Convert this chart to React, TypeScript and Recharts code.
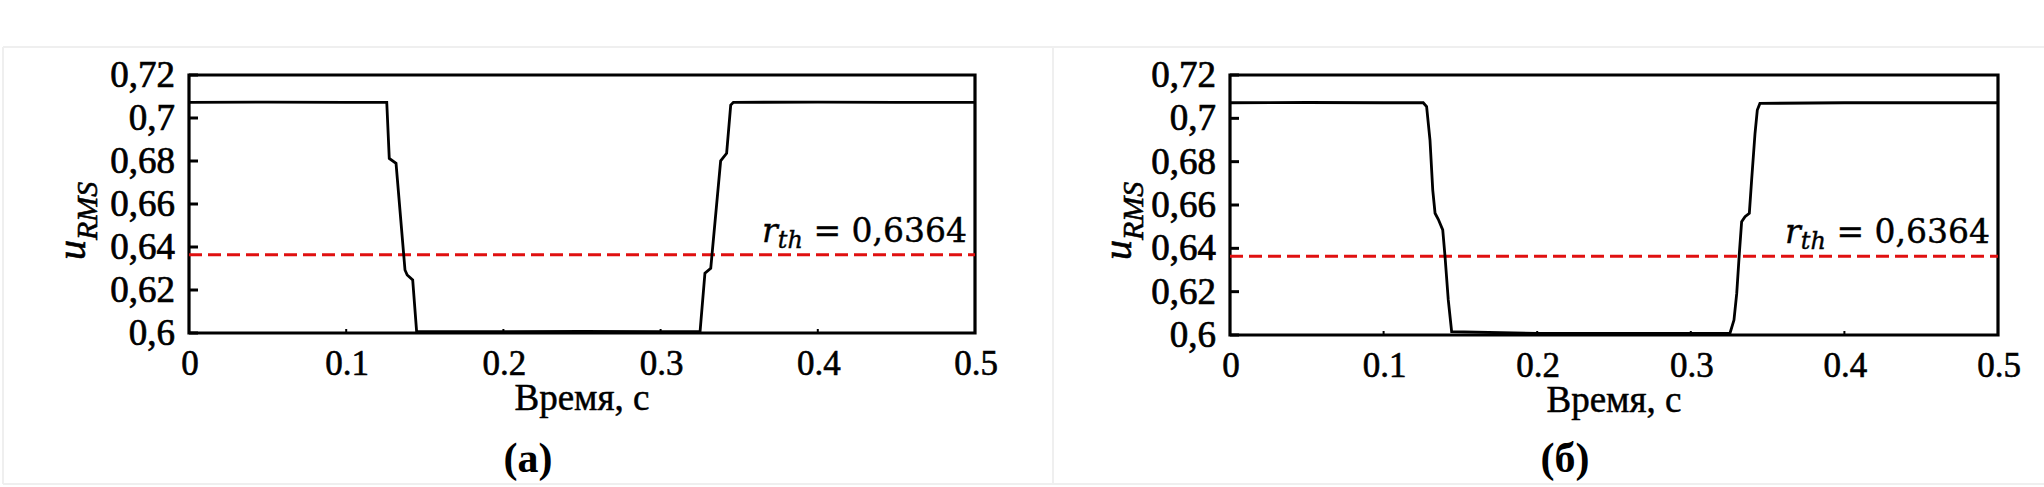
import React from 'react';
import { LineChart, Line, XAxis, YAxis, ReferenceLine, ReferenceArea } from 'recharts';

const timeTicks = [0, 0.1, 0.2, 0.3, 0.4, 0.5];
const timeTickLabels = ['0', '0.1', '0.2', '0.3', '0.4', '0.5'];
const uTicks = [0.6, 0.62, 0.64, 0.66, 0.68, 0.7, 0.72];
const uTickLabels = ['0,6', '0,62', '0,64', '0,66', '0,68', '0,7', '0,72'];
const threshold = 0.6364;
const thresholdText = '0,6364';
const xTitle = 'Время, с';
const panelNames = ['(а)', '(б)'];

// panel (a): stepped transitions
const timeA = [0, 0.05, 0.1, 0.1258, 0.1274, 0.1317, 0.1374, 0.1388, 0.1423, 0.1448, 0.2, 0.25, 0.3, 0.3251, 0.3282, 0.3319, 0.3382, 0.342, 0.3446, 0.3463, 0.4, 0.45, 0.5];
const uA = [0.7073, 0.7074, 0.7073, 0.7073, 0.6812, 0.6789, 0.6293, 0.627, 0.6247, 0.6006, 0.6006, 0.6007, 0.6006, 0.6006, 0.6278, 0.6301, 0.6801, 0.6836, 0.706, 0.7073, 0.7074, 0.7073, 0.7073];

// panel (б): smoother transitions
const timeB = [0, 0.05, 0.1, 0.1258, 0.128, 0.1302, 0.132, 0.1335, 0.1356, 0.1385, 0.14, 0.1421, 0.1443, 0.2, 0.25, 0.3, 0.3255, 0.3281, 0.3299, 0.3316, 0.3331, 0.3353, 0.3381, 0.3396, 0.3418, 0.3433, 0.345, 0.4, 0.45, 0.5];
const uB = [0.7072, 0.7073, 0.7072, 0.7072, 0.7054, 0.69, 0.6669, 0.6562, 0.6534, 0.6485, 0.6362, 0.6162, 0.6015, 0.6007, 0.6007, 0.6007, 0.6008, 0.6069, 0.6192, 0.6377, 0.6523, 0.6546, 0.6562, 0.6715, 0.693, 0.7038, 0.7069, 0.7072, 0.7072, 0.7072];

const SERIF = 'Liberation Serif';
const MATH = 'DejaVu Serif';
const RED = '#e01010';

const XTick = (props: any) => {
  const { x, y, payload } = props;
  const i = timeTicks.findIndex((v) => Math.abs(v - payload.value) < 1e-9);
  return (
    <g>
      <line x1={x} y1={y} x2={x} y2={y - 4} stroke="#000" strokeWidth={2} />
      <text x={x + 1} y={y + 42} textAnchor="middle" fontFamily={SERIF} fontSize={35} fill="#000" stroke="#000" strokeWidth={0.6}>
        {timeTickLabels[i]}
      </text>
    </g>
  );
};

const YTick = (props: any) => {
  const { x, y, payload } = props;
  const i = uTicks.findIndex((v) => Math.abs(v - payload.value) < 1e-9);
  return (
    <g>
      <line x1={x} y1={y} x2={x + 9} y2={y} stroke="#000" strokeWidth={3} />
      <text x={x - 14} y={y + 12} textAnchor="end" fontFamily={SERIF} fontSize={37} fill="#000" stroke="#000" strokeWidth={0.7}>
        {uTickLabels[i]}
      </text>
    </g>
  );
};

const ThresholdLabel = (props: any) => {
  const { x, y, width } = props.viewBox;
  return (
    <text x={x + width - 8} y={y - 13} textAnchor="end" fontFamily={MATH} fontSize={33} fill="#000" stroke="#000" strokeWidth={0.4} style={{ whiteSpace: 'pre' }}>
      <tspan fontStyle="italic">r</tspan>
      <tspan fontStyle="italic" fontSize={24} dy={6}>th</tspan>
      <tspan dy={-6}>{' = ' + thresholdText}</tspan>
    </text>
  );
};

const XTitle = (props: any) => {
  const { x, y, width } = props.viewBox;
  return (
    <text x={x + width / 2} y={y + 77} textAnchor="middle" fontFamily={SERIF} fontSize={37} fill="#000" stroke="#000" strokeWidth={0.5}>
      {xTitle}
    </text>
  );
};

function Panel({ time, u, left, margin, yLabelGap }: any) {
  const data = time.map((t: number, i: number) => ({ t, u: u[i] }));
  const YTitle = (props: any) => {
    const { x, width } = props.viewBox;
    return (
      <text transform={`translate(${x + width - yLabelGap},260) rotate(-90)`} fontFamily={SERIF} fontStyle="italic" fill="#000" stroke="#000" strokeWidth={0.6}>
        <tspan fontSize={40}>u</tspan>
        <tspan fontSize={30} dy={12}>RMS</tspan>
      </text>
    );
  };
  return (
    <div style={{ position: 'absolute', left, top: 0 }}>
      <LineChart width={1022} height={487} data={data} margin={margin}>
        <XAxis
          type="number"
          dataKey="t"
          domain={[0, 0.5]}
          ticks={timeTicks}
          interval={0}
          tickSize={0}
          tickMargin={0}
          axisLine={false}
          tickLine={false}
          tick={XTick}
          height={100}
          label={{ content: XTitle }}
        />
        <YAxis
          type="number"
          domain={[0.6, 0.72]}
          ticks={uTicks}
          interval={0}
          tickSize={0}
          tickMargin={0}
          axisLine={false}
          tickLine={false}
          tick={YTick}
          width={100}
          allowDataOverflow
          label={{ content: YTitle }}
        />
        <ReferenceArea x1={0} x2={0.5} y1={0.6} y2={0.72} fill="none" fillOpacity={0} stroke="#000" strokeWidth={3.2} ifOverflow="visible" />
        <ReferenceLine y={threshold} stroke={RED} strokeWidth={3} strokeDasharray="13 6" label={{ content: ThresholdLabel }} />
        <Line type="linear" dataKey="u" stroke="#000" strokeWidth={2.8} dot={false} isAnimationActive={false} />
      </LineChart>
    </div>
  );
}

export default function App() {
  return (
    <div style={{ position: 'absolute', left: 0, top: 0, width: 2044, height: 487, background: '#fff', overflow: 'hidden' }}>
      <svg width={2044} height={487} style={{ position: 'absolute', left: 0, top: 0 }}>
        <line x1={3} y1={47} x2={2044} y2={47} stroke="#efefef" strokeWidth={2} />
        <line x1={3} y1={484} x2={2044} y2={484} stroke="#efefef" strokeWidth={2} />
        <line x1={3} y1={47} x2={3} y2={484} stroke="#efefef" strokeWidth={2} />
        <line x1={1053} y1={47} x2={1053} y2={484} stroke="#efefef" strokeWidth={2} />
        <text x={528} y={472} textAnchor="middle" fontFamily={SERIF} fontWeight="bold" fontSize={42} fill="#000">{panelNames[0]}</text>
        <text x={1565} y={472} textAnchor="middle" fontFamily={SERIF} fontWeight="bold" fontSize={42} fill="#000">{panelNames[1]}</text>
      </svg>
      <Panel time={timeA} u={uA} left={0} margin={{ top: 75, right: 47, bottom: 54, left: 89 }} yLabelGap={104} />
      <Panel time={timeB} u={uB} left={1022} margin={{ top: 75, right: 46, bottom: 52, left: 108 }} yLabelGap={99} />
    </div>
  );
}
